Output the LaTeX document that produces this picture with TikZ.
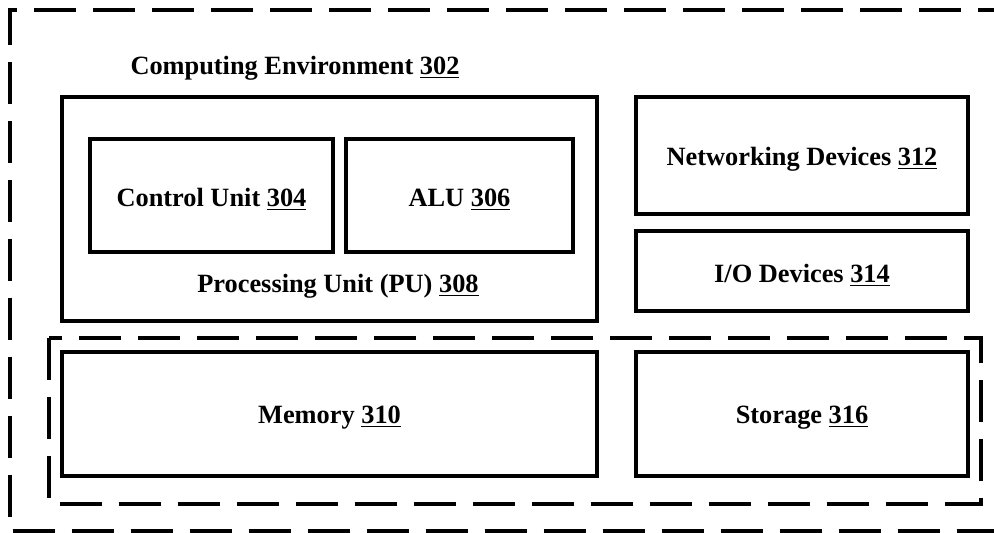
\documentclass[tikz,border=0pt]{standalone}
\usepackage{fontspec}
\setmainfont{Liberation Serif}
\usetikzlibrary{positioning, fit}

\begin{document}
\begin{tikzpicture}[x=0.02cm, y=-0.02cm, font=\bfseries\fontsize{15}{18}\selectfont,
    box/.style={draw, line width=0.08cm, inner sep=0pt},
    dashbox/.style={draw, line width=0.08cm, dash pattern=on 0.84cm off 0.34cm},
    every label/.append style={yshift=-0.08cm}]
  \useasboundingbox (0,0) rectangle (994,533);
  % computing environment (runs off the page to the right)
  \draw[dashbox] (1020,10) -- (10,10) -- (10,531) -- (1020,531);
  \node (envlabel) at (295,68) {Computing Environment \underline{302}};
  % processing unit
  \node[box, fit={(62,97) (597,321)}] (pu) {};
  \node[box, fit={(90,139) (333,252)}, label=center:{Control Unit \underline{304}}] (cu) {};
  \node[box, fit={(346,139) (573,252)}, label=center:{ALU \underline{306}}] (alu) {};
  \node (pulabel) at (338,286) {Processing Unit (PU) \underline{308}};
  % devices
  \node[box, fit={(636,97) (968,214)}, label=center:{Networking Devices \underline{312}}] (net) {};
  \node[box, fit={(636,231) (968,311)}, label=center:{I/O Devices \underline{314}}] (io) {};
  % memory and storage
  \draw[dashbox] (49,338) rectangle (981,504);
  \node[box, fit={(62,352) (597,476)}, label=center:{Memory \underline{310}}] (mem) {};
  \node[box, fit={(636,352) (968,476)}, label=center:{Storage \underline{316}}] (store) {};
\end{tikzpicture}
\end{document}
